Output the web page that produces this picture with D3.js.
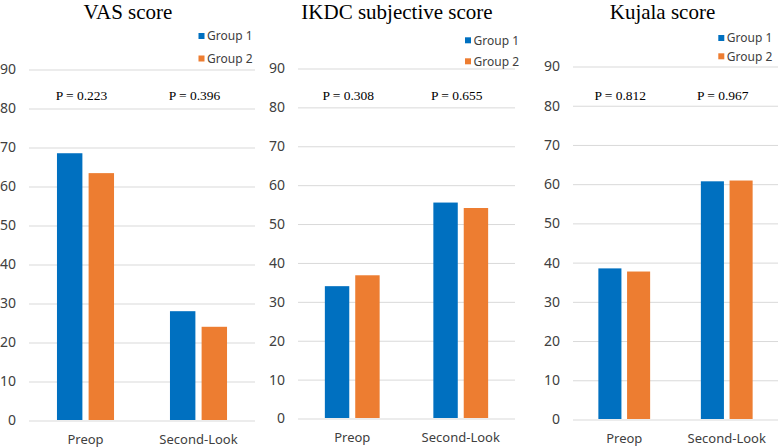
<!DOCTYPE html>
<html>
<head>
<meta charset="utf-8">
<script src="https://cdn.jsdelivr.net/npm/d3@7"></script>
<style>
  html, body { margin: 0; padding: 0; background: #ffffff; }
  svg { display: block; }
</style>
</head>
<body>
<svg id="chart" width="778" height="448"></svg>
<script>
// ---- Data ----
const categories = ["Preop", "Second-Look"];
const seriesNames = ["Group 1", "Group 2"];
const yTicks = [0, 10, 20, 30, 40, 50, 60, 70, 80, 90];

const titles = ["VAS score", "IKDC subjective score", "Kujala score"];

const vasGroup1 = [68.4, 27.9];
const vasGroup2 = [63.3, 23.9];
const vasP = ["P = 0.223", "P = 0.396"];

const ikdcGroup1 = [33.9, 55.4];
const ikdcGroup2 = [36.7, 54.0];
const ikdcP = ["P = 0.308", "P = 0.655"];

const kujalaGroup1 = [38.4, 60.6];
const kujalaGroup2 = [37.6, 60.8];
const kujalaP = ["P = 0.812", "P = 0.967"];

const colors = ["#0070C0", "#ED7D31"];

// ---- Layout (positions only) ----
const layouts = [
  { left: 29,  right: 255, y0: 420, yTop: 69, titleX: 128,   legX: 198.5, legY: [36, 58.5] },
  { left: 298, right: 515, y0: 418, yTop: 68, titleX: 397,   legX: 465,   legY: [40.3, 61.3] },
  { left: 573, right: 778, y0: 419, yTop: 66, titleX: 662.5, legX: 718.3, legY: [38, 56.3] }
];

const panels = [
  { title: titles[0], g1: vasGroup1, g2: vasGroup2, p: vasP },
  { title: titles[1], g1: ikdcGroup1, g2: ikdcGroup2, p: ikdcP },
  { title: titles[2], g1: kujalaGroup1, g2: kujalaGroup2, p: kujalaP }
];

const svg = d3.select("#chart");

panels.forEach((panel, i) => {
  const L = layouts[i];
  const g = svg.append("g");

  const x0 = d3.scaleBand().domain(categories).range([L.left, L.right]).paddingInner(0).paddingOuter(0);
  const y = d3.scaleLinear().domain([0, 90]).range([L.y0, L.yTop]);

  const band = x0.bandwidth();
  const barW = band * 0.225;
  const gap = band * 0.055;
  const x1 = d3.scaleBand().domain(seriesNames)
    .range([0, 2 * barW + gap])
    .paddingInner(gap / (barW + gap))
    .paddingOuter(0);

  // Y axis with gridlines
  const axis = d3.axisLeft(y)
    .tickValues(yTicks)
    .tickSize(-(L.right - L.left))
    .tickPadding(13)
    .tickFormat(d3.format("d"));

  const ax = g.append("g")
    .attr("transform", `translate(${L.left},0.5)`)
    .call(axis);
  ax.select(".domain").remove();
  ax.selectAll(".tick line").attr("stroke", "#d9d9d9").attr("stroke-width", 1);
  ax.selectAll(".tick text")
    .attr("fill", "#404040")
    .style("font-family", "'Noto Sans', 'Open Sans', sans-serif")
    .style("font-size", "14px");

  // Bars
  const rows = categories.map((c, k) => ({ cat: c, vals: [panel.g1[k], panel.g2[k]] }));
  const groups = g.selectAll(".grp").data(rows).enter().append("g")
    .attr("transform", d => `translate(${x0(d.cat) + band / 2 - (2 * barW + gap) / 2},0)`);
  groups.selectAll("rect")
    .data(d => d.vals.map((v, s) => ({ s: seriesNames[s], v, c: colors[s] })))
    .enter().append("rect")
    .attr("x", d => x1(d.s))
    .attr("width", x1.bandwidth())
    .attr("y", d => y(d.v))
    .attr("height", d => y(0) - y(d.v))
    .attr("fill", d => d.c);

  // Category labels
  g.selectAll(".cat").data(categories).enter().append("text")
    .attr("x", d => x0(d) + band / 2)
    .attr("y", L.y0 + 24)
    .attr("text-anchor", "middle")
    .attr("fill", "#404040")
    .style("font-family", "'Noto Sans', 'Open Sans', sans-serif")
    .style("font-size", "13px")
    .text(d => d);

  // P-value labels
  g.selectAll(".pv").data(categories).enter().append("text")
    .attr("x", (d) => x0(d) + band / 2 - 4)
    .attr("y", 100)
    .attr("text-anchor", "middle")
    .attr("fill", "#000")
    .style("font-family", "'Liberation Serif', 'Times New Roman', serif")
    .style("font-size", "13.5px")
    .text((d, k) => panel.p[k]);

  // Title
  g.append("text")
    .attr("x", L.titleX)
    .attr("y", 19)
    .attr("text-anchor", "middle")
    .attr("fill", "#000")
    .style("font-family", "'Liberation Serif', 'Times New Roman', serif")
    .style("font-size", "21px")
    .text(panel.title);

  // Legend
  seriesNames.forEach((name, s) => {
    g.append("rect")
      .attr("x", L.legX)
      .attr("y", L.legY[s] - 3)
      .attr("width", 6)
      .attr("height", 6)
      .attr("fill", colors[s]);
    g.append("text")
      .attr("x", L.legX + 8.5)
      .attr("y", L.legY[s] + 4.3)
      .attr("fill", "#404040")
      .style("font-family", "'Noto Sans', 'Open Sans', sans-serif")
      .style("font-size", "12px")
      .text(name);
  });
});
</script>
</body>
</html>
